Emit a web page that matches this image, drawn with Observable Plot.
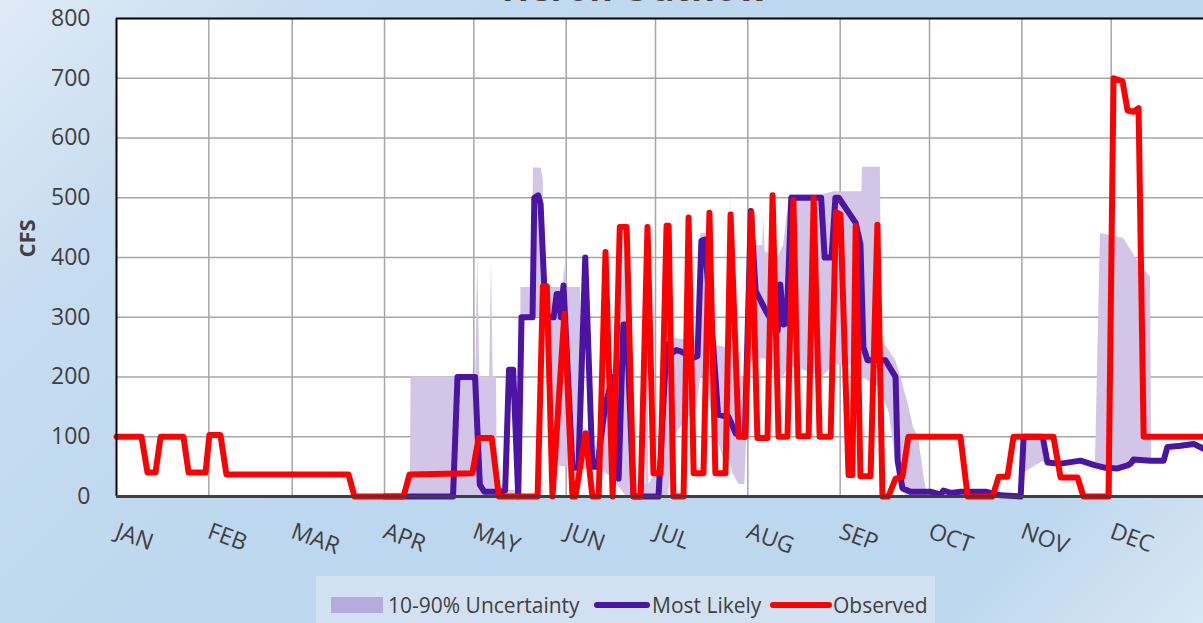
<!DOCTYPE html>
<html><head><meta charset="utf-8">
<script src="https://cdn.jsdelivr.net/npm/d3@7"></script>
<script src="https://cdn.jsdelivr.net/npm/@observablehq/plot@0.6"></script>
<style>
html,body{margin:0;padding:0;}
body{width:1203px;height:623px;overflow:hidden;font-family:"Open Sans",sans-serif;}
#wrap{position:relative;width:1203px;height:623px;overflow:hidden;background:linear-gradient(135deg,#dfeaf6 0%,#c6dcf0 18%,#bdd7ee 45%,#bdd7ee 85%,#d9e7f4 100%);}
#title{position:absolute;top:-34px;left:0;width:1270px;text-align:center;font-size:36px;font-weight:bold;color:#404040;line-height:44px;}
#chart{position:absolute;left:0;top:0;}
#legend{position:absolute;left:316px;top:576px;width:619px;height:47px;background:#d2e1f1;color:#404040;font-size:21px;}
#legend div{position:absolute;}
.lt{top:16px;line-height:26px;white-space:nowrap;}
</style></head>
<body>
<div id="wrap">
  <div id="title">Heron Outflow</div>
  <div id="chart"></div>
  <div id="legend">
    <div style="left:15px;top:21px;width:52px;height:16px;background:#b4acdc;"></div>
    <div class="lt" style="left:72px;">10-90% Uncertainty</div>
    <div style="left:278px;top:26px;width:56px;height:6px;border-radius:3px;background:#4b14a2;"></div>
    <div class="lt" style="left:336px;">Most Likely</div>
    <div style="left:454px;top:26px;width:62px;height:6px;border-radius:3px;background:#ff0000;"></div>
    <div class="lt" style="left:517px;">Observed</div>
  </div>
</div>
<script>
// Day-of-year where each month starts, and its label
const monthStarts = [0,31,59,90,120,151,181,212,243,273,304,334];
const monthLabels = ["JAN","FEB","MAR","APR","MAY","JUN","JUL","AUG","SEP","OCT","NOV","DEC"];
const yTicks = [0,100,200,300,400,500,600,700,800];

// Observed flow: [day of year, CFS]
const observed = [[0,100],[8.4,100],[10.4,40],[13.1,40],[14.8,100],[22.5,100],[24.2,40],[29.9,40],[31.2,103],[34.9,103],[36.9,37],[77.9,37],[79.9,0],[96.4,0],[98.4,37],[119.5,39],[121.6,98],[126.0,98],[128.4,0],[141.4,0],[143.2,352],[144.5,352],[146.4,0],[150.4,306],[153.1,0],[154.1,0],[157.5,106],[159.8,0],[161.9,0],[164.2,409],[166.6,0],[169.0,451],[171.3,451],[173.6,0],[176.0,0],[178.3,451],[180.3,39],[182.7,39],[184.7,453],[185.4,453],[187.0,0],[190.4,0],[192.1,467],[193.8,39],[197.1,39],[199.1,475],[201.1,39],[204.5,39],[206.2,472],[208.9,100],[211.2,100],[213.2,475],[215.2,98],[218.6,98],[220.3,504],[222.3,100],[225.3,100],[227.3,496],[229.0,101],[232.4,101],[234.1,500],[236.1,100],[239.8,100],[241.6,476],[243.1,472],[245.8,36],[247.1,36],[248.2,453],[249.8,34],[253.2,34],[255.5,455],[257.2,0],[259.2,0],[261.6,30],[263.9,33],[265.9,100],[283.4,100],[285.8,0],[294.2,0],[296.2,33],[299.2,33],[301.2,100],[314.6,100],[317.0,32],[322.7,32],[324.7,0],[333.1,0],[334.8,700],[337.8,695],[339.5,646],[341.5,644],[343.2,650],[344.9,100],[365,100]];

// Most likely forecast: [day of year, CFS]
const mostLikely = [[90,0],[113.0,0],[114.5,200],[120.4,200],[122.0,20],[123.5,8],[129.0,8],[130.5,10],[131.8,212],[133.2,212],[134.9,0],[136.0,300],[139.7,300],[140.3,500],[141.6,504],[142.4,490],[144.1,300],[146.8,300],[147.8,339],[148.5,339],[149.2,300],[150.1,353],[153.1,48],[155.1,48],[157.4,400],[159.8,50],[161.5,50],[164.0,150],[166.6,200],[168.6,30],[170.2,288],[171.3,288],[173.6,0],[182.0,0],[184.7,255],[186.4,240],[188.0,245],[189.4,243],[193.8,232],[195.1,235],[196.4,428],[197.4,430],[200.4,250],[202.0,137],[205.5,133],[208.0,105],[211.0,100],[213.0,478],[214.6,344],[218.0,311],[222.0,277],[222.9,355],[224.0,288],[225.0,290],[226.6,500],[236.6,500],[237.8,400],[240.1,400],[241.4,500],[242.5,500],[248.2,458],[249.8,422],[250.8,250],[252.2,228],[258.2,228],[261.6,200],[262.3,60],[263.9,14],[266.6,8],[273.3,8],[276.7,3],[277.7,10],[280.1,6],[283.4,8],[291.8,8],[296.8,2],[303.6,0],[304.6,100],[311.0,100],[312.6,57],[317.0,55],[323.7,60],[328.7,52],[332.1,48],[336.1,47],[339.5,52],[340.5,55],[341.5,62],[347.2,60],[351.6,60],[352.9,83],[357.3,85],[361.7,88],[365,80]];

// 10-90% uncertainty band: [day of year, low CFS, high CFS]
const uncertainty = [[98.7,0,0],[98.9,0,200],[120.6,0,200],[121.3,0,400],[122.0,0,200],[125.3,0,200],[125.9,0,395],[126.5,0,200],[127.6,0,200],[127.9,0,10],[135.5,0,10],[135.8,300,350],[139.7,300,350],[140.0,300,550],[142.6,300,550],[143.3,300,530],[143.6,300,350],[146.0,50,350],[150.0,50,350],[150.5,50,389],[151.0,50,350],[155.8,50,350],[156.5,45,120],[160.0,45,60],[164.0,40,160],[166.6,30,210],[169.6,10,290],[171.2,0,470],[171.8,0,280],[174.0,0,20],[177.8,0,20],[178.2,0,470],[178.8,0,20],[183.0,0,60],[184.6,0,483],[185.4,0,270],[187.0,100,265],[195.0,150,260],[196.2,200,440],[198.0,200,440],[200.4,120,255],[204.0,60,250],[205.7,60,250],[206.2,60,517],[206.8,40,250],[209.0,20,200],[211.0,20,200],[212.6,220,485],[214.5,230,420],[217.0,230,420],[217.3,230,470],[217.8,230,410],[222.0,200,400],[224.0,200,420],[226.0,220,505],[237.0,200,505],[241.0,220,510],[250.3,220,510],[250.5,200,551],[256.5,180,551],[257.0,170,261],[259.5,140,244],[261.6,60,228],[263.3,10,200],[265.6,0,160],[267.6,0,116],[269.3,0,100],[271.0,0,38],[272.3,0,0],[303.6,0,0],[304.3,38,100],[310.9,58,100],[312.6,55,60],[313.0,55,55],[328.7,52,52],[330.4,48,440],[333.8,46,437],[338.2,48,432],[342.9,55,395],[347.2,58,367],[347.6,60,60]];

const plot = Plot.plot({
  width: 1203, height: 576,
  marginLeft: 116, marginRight: 0, marginTop: 18, marginBottom: 80,
  x: {domain: [0, 365], axis: null},
  y: {domain: [0, 800], axis: null},
  style: {background: "transparent", color: "#404040", fontFamily: "'Open Sans', sans-serif", overflow: "visible"},
  marks: [
    Plot.frame({fill: "white", stroke: null}),
    Plot.ruleX(monthStarts.slice(1), {stroke: "#a6a6a6", strokeWidth: 1.5}),
    Plot.ruleY(yTicks.slice(1, -1), {stroke: "#a6a6a6", strokeWidth: 1.5}),
    Plot.areaY(uncertainty, {x: d => d[0], y1: d => d[1], y2: d => d[2], fill: "#d3c5e7"}),
    Plot.line(mostLikely, {x: d => d[0], y: d => d[1], stroke: "#4b14a2", strokeWidth: 6, strokeLinejoin: "round", strokeLinecap: "round"}),
    Plot.line(observed, {x: d => d[0], y: d => d[1], stroke: "#ff0000", strokeWidth: 6, strokeLinejoin: "round", strokeLinecap: "round"}),
    Plot.ruleX([0], {stroke: "#000", strokeWidth: 2}),
    Plot.ruleY([800], {stroke: "#000", strokeWidth: 2}),
    Plot.ruleY([0], {stroke: "#404040", strokeWidth: 3}),
    Plot.axisY({ticks: yTicks, tickSize: 0, tickPadding: 26, fontSize: 23, label: null, tickFormat: d => String(d)}),
    Plot.text(monthStarts, {x: d => d, text: (d, i) => monthLabels[i], frameAnchor: "bottom", dy: 34, rotate: 20, textAnchor: "start", lineAnchor: "middle", fontSize: 23, fill: "#404040"}),
    Plot.text(["CFS"], {text: d => d, frameAnchor: "left", dx: -89, rotate: -90, fontWeight: "bold", fontSize: 22, fill: "#404040"})
  ]
});
document.getElementById("chart").appendChild(plot);
</script>
</body></html>
